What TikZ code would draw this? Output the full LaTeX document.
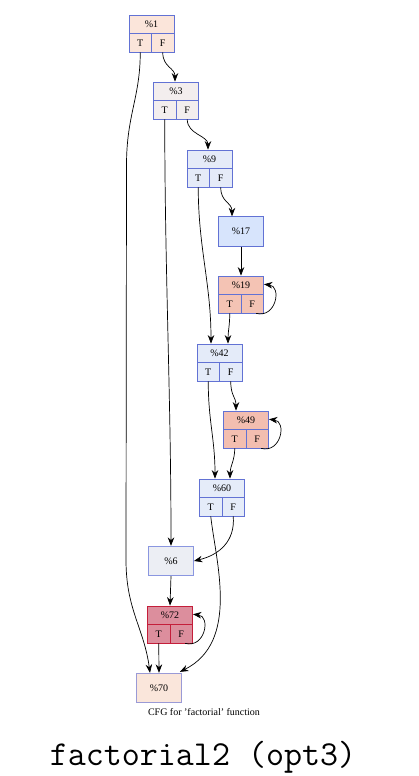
\documentclass[tikz,border=0pt]{standalone}
\usepackage{fontspec}
\setmainfont{Liberation Serif}
\usetikzlibrary{arrows.meta}
\definecolor{bl}{HTML}{6272D4}
\definecolor{blL}{HTML}{8A96E0}
\definecolor{pu}{HTML}{9A9AD6}
\definecolor{cr}{HTML}{C41E3A}
\definecolor{f1}{HTML}{FBE5DA}
\definecolor{f3}{HTML}{F3EEEE}
\definecolor{f9}{HTML}{E5EBF8}
\definecolor{f17}{HTML}{D7E4FC}
\definecolor{f19}{HTML}{F4C3B4}
\definecolor{f42}{HTML}{E4EBF9}
\definecolor{f49}{HTML}{F3BEB0}
\definecolor{f60}{HTML}{E5ECF9}
\definecolor{f6}{HTML}{ECEEF4}
\definecolor{f72}{HTML}{DC8E9D}
\definecolor{f70}{HTML}{FAE6DB}
\newcommand\recnode[6]{%
 \node[hdr, fill=#5, draw=#6] (#1) at (#2, #3+9.25) {\%#4};
 \node[cell, fill=#5, draw=#6] (#1T) at (#2-11.25, #3+27.75) {T};
 \node[cell, fill=#5, draw=#6] (#1F) at (#2+11.25, #3+27.75) {F};
}
\begin{document}
\begin{tikzpicture}[x=1pt,y=-1pt,
  hdr/.style={rectangle, line width=0.8pt, minimum width=45pt, minimum height=18.5pt, inner sep=0pt, font=\fontsize{10}{12}\selectfont},
  cell/.style={rectangle, line width=0.8pt, minimum width=22.5pt, minimum height=18.5pt, inner sep=0pt, font=\fontsize{10}{12}\selectfont},
  sbox/.style={rectangle, line width=0.8pt, minimum width=45pt, minimum height=29.5pt, inner sep=0pt, font=\fontsize{10}{12}\selectfont},
  edge/.style={line width=0.7pt, -{Stealth[length=8.5pt,width=6.5pt]}}]
\useasboundingbox (0,0) rectangle (418,776);
\fill[white] (0,0) rectangle (418,776);

\recnode{n1}{151.5}{15}{1}{f1}{bl}
\recnode{n3}{176}{82}{3}{f3}{bl}
\recnode{n9}{209.5}{150}{9}{f9}{bl}
\node[sbox, fill=f17, draw=bl] (n17) at (241, 231.5) {\%17};
\recnode{n19}{241}{276}{19}{f19}{bl}
\recnode{n42}{219.5}{344}{42}{f42}{bl}
\recnode{n49}{246}{411}{49}{f49}{bl}
\recnode{n60}{222}{479}{60}{f60}{bl}
\node[sbox, fill=f6, draw=blL] (n6) at (171, 561) {\%6};
\recnode{n72}{170}{606}{72}{f72}{cr}
\node[sbox, fill=f70, draw=pu] (n70) at (159, 688) {\%70};

\node[font=\fontsize{10}{12}\selectfont] (cap) at (204, 712) {CFG for 'factorial' function};
\node[font=\fontsize{35}{40}\selectfont\ttfamily] (title) at (203, 757) {factorial2 (opt3)};

\coordinate (w1) at (126.5, 165);
\coordinate (w2) at (126, 560);

% edges
\draw[edge] (n1T.south) .. controls +(0,45) and +(0,-50) .. (w1) -- (w2) .. controls +(0,50) and +(-6,-45) .. ([xshift=-9]n70.north);
\draw[edge] (n1F.south) .. controls +(0,15) and +(0,-14) .. ([xshift=-1]n3.north);
\draw[edge] (n3T.south) .. controls +(0,150) and +(0,-150) .. (n6.north);
\draw[edge] (n3F.south) .. controls +(0,15) and +(0,-14) .. ([xshift=-1.5]n9.north);
\draw[edge] (n9T.south) .. controls +(0,60) and +(0,-60) .. ([xshift=-8.5]n42.north);
\draw[edge] (n9F.south) .. controls +(0,15) and +(0,-14) .. ([xshift=-9]n17.north);
\draw[edge] (n17.south) -- (n19.north);
\draw[edge] ([xshift=4]n19F.south) .. controls +(20,5) and +(18,2) .. ([yshift=1]n19.east);
\draw[edge] (n19T.south) .. controls +(0,12) and +(0,-12) .. ([xshift=8.5]n42.north);
\draw[edge] (n42T.south) .. controls +(0,40) and +(0,-40) .. ([xshift=-7]n60.north);
\draw[edge] (n42F.south) .. controls +(0,15) and +(0,-14) .. ([xshift=-10]n49.north);
\draw[edge] ([xshift=4]n49F.south) .. controls +(20,5) and +(18,2) .. ([yshift=1]n49.east);
\draw[edge] (n49T.south) .. controls +(0,12) and +(0,-12) .. ([xshift=8]n60.north);
\draw[edge] (n60T.south) .. controls +(5,45) and +(60,-30) .. ([xshift=-2,yshift=1]n70.north east);
\draw[edge] (n60F.south) .. controls +(2,25) and +(25,-6) .. (n6.east);
\draw[edge] (n6.south) -- (n72.north);
\draw[edge] ([xshift=4]n72F.south) .. controls +(20,5) and +(18,2) .. ([yshift=1]n72.east);
\draw[edge] (n72T.south) -- (n70.north);
\end{tikzpicture}
\end{document}
